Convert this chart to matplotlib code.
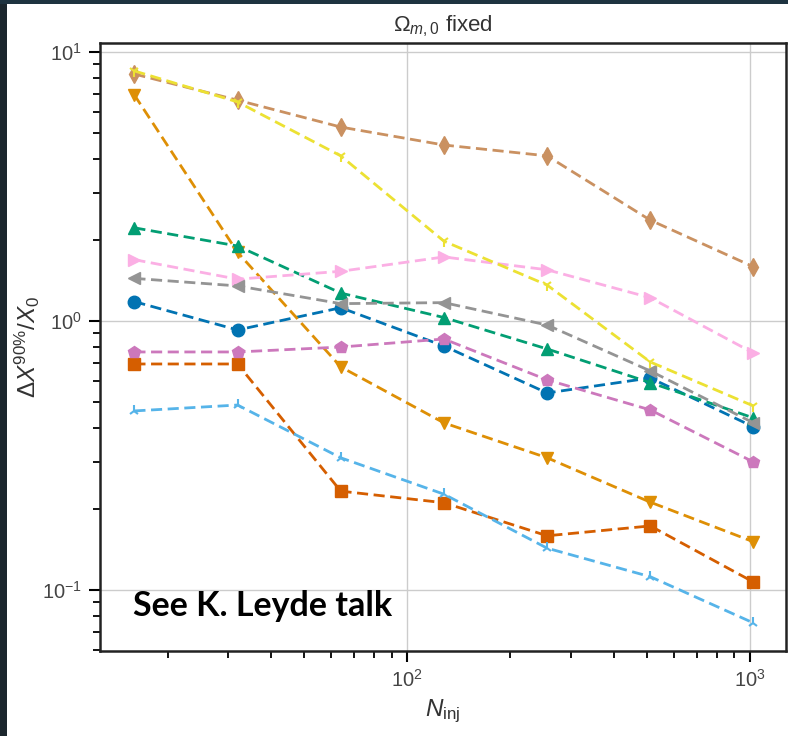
import numpy as np
import matplotlib
matplotlib.use("Agg")
import matplotlib.pyplot as plt
from matplotlib.patches import Rectangle
from matplotlib.ticker import LogLocator, NullFormatter

plt.rcParams['font.family'] = ['Liberation Sans', 'DejaVu Sans']
plt.rcParams['mathtext.fontset'] = 'custom'
plt.rcParams['mathtext.rm'] = 'Liberation Sans'
plt.rcParams['mathtext.it'] = 'Liberation Sans:italic'
plt.rcParams['mathtext.bf'] = 'Liberation Sans:bold'

# data
n_inj = [16, 32, 64, 128, 256, 512, 1024]
s_circle = [1.18, 0.926, 1.12, 0.807, 0.540, 0.614, 0.404]
s_down = [6.92, 1.80, 0.675, 0.418, 0.310, 0.212, 0.151]
s_up = [2.22, 1.90, 1.27, 1.03, 0.787, 0.590, 0.436]
s_square = [0.692, 0.692, 0.233, 0.211, 0.159, 0.173, 0.107]
s_penta = [0.767, 0.767, 0.80, 0.857, 0.604, 0.467, 0.299]
s_diamond = [8.28, 6.62, 5.26, 4.51, 4.11, 2.37, 1.59]
s_right = [1.69, 1.43, 1.53, 1.73, 1.55, 1.22, 0.76]
s_left = [1.44, 1.35, 1.16, 1.17, 0.966, 0.652, 0.418]
s_tri1 = [8.5, 6.52, 4.11, 1.98, 1.36, 0.704, 0.483]
s_tri2 = [0.463, 0.487, 0.310, 0.227, 0.143, 0.112, 0.0754]

series = [s_circle, s_down, s_up, s_square, s_penta,
          s_diamond, s_right, s_left, s_tri1, s_tri2]
colors = ['#0173b2', '#de8f05', '#029e73', '#d55e00', '#cc78bc',
          '#ca9161', '#fbafe4', '#949494', '#ece133', '#56b4e9']
markers = ['o', 'v', '^', 's', 'p', 'd', '>', '<', '1', '2']

fig = plt.figure(figsize=(7.88, 7.36), dpi=100)
fig.patch.set_facecolor('white')
ax = fig.add_axes([100/788, 1-651/736, 686/788, 608/736])

for y, c, m in zip(series, colors, markers):
    thin = m in ('1', '2')
    ax.plot(n_inj, y, ls='--', lw=2, color=c, marker=m, ms=8 if thin else 9,
            mew=1.5 if thin else 1, dashes=(4, 2))

ax.set_xscale('log')
ax.set_yscale('log')
ax.set_xlim(12.7, 1274)
ax.set_ylim(0.0593, 10.8)

ax.grid(True, which='major', color='#cccccc', lw=1)
ax.set_axisbelow(True)
ax.xaxis.set_minor_locator(LogLocator(base=10, subs=np.arange(2, 10)))
ax.yaxis.set_minor_locator(LogLocator(base=10, subs=np.arange(2, 10)))
ax.xaxis.set_minor_formatter(NullFormatter())
ax.yaxis.set_minor_formatter(NullFormatter())
ax.tick_params(which='major', length=8, width=1.5, labelsize=14.5,
               labelcolor='#444444', direction='out', pad=5)
ax.tick_params(which='minor', length=5, width=1.3, direction='out')
for sp in ax.spines.values():
    sp.set_linewidth(1.8)
    sp.set_color('#222222')

ax.set_title(r'$\Omega_{m,0}$ fixed', fontsize=16, color='#333333', pad=8)
ax.set_xlabel(r'$N_{\rm inj}$', fontsize=17.5, color='#333333', labelpad=5)
ax.set_ylabel(r'$\Delta X^{90\%}/X_0$', fontsize=17.5, color='#333333', labelpad=0)

fig.text(133/788, 1-606/736, 'See K. Leyde talk', fontsize=24.5,
         fontweight='bold', family='Lato', color='black', va='center')

# dark slide frame at left and top
fig.add_artist(Rectangle((0, 0), 7/788, 1, transform=fig.transFigure,
                         color='#1b262d', lw=0))
fig.add_artist(Rectangle((0, 1-4/736), 1, 4/736, transform=fig.transFigure,
                         color='#1e3340', lw=0))

fig.savefig('out.png', dpi=100)
